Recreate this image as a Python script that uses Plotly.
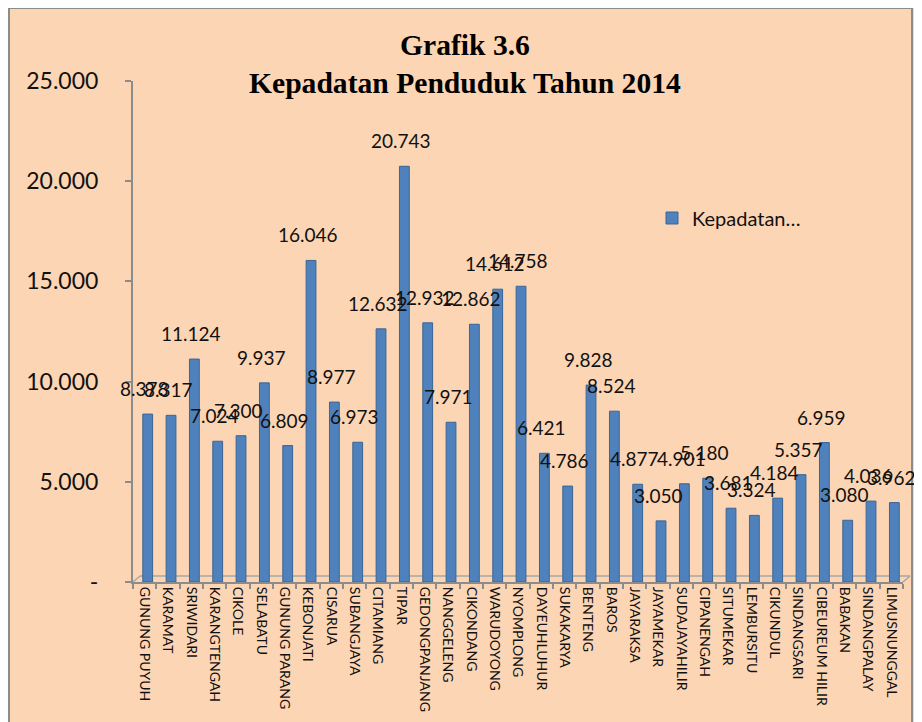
import plotly.graph_objects as go

categories = ["GUNUNG PUYUH", "KARAMAT", "SRIWIDARI", "KARANGTENGAH", "CIKOLE", "SELABATU",
              "GUNUNG PARANG", "KEBONJATI", "CISARUA", "SUBANGJAYA", "CITAMIANG", "TIPAR",
              "GEDONGPANJANG", "NANGGELENG", "CIKONDANG", "WARUDOYONG", "NYOMPLONG",
              "DAYEUHLUHUR", "SUKAKARYA", "BENTENG", "BAROS", "JAYARAKSA", "JAYAMEKAR",
              "SUDAJAYAHILIR", "CIPANENGAH", "SITUMEKAR", "LEMBURSITU", "CIKUNDUL",
              "SINDANGSARI", "CIBEUREUM HILIR", "BABAKAN", "SINDANGPALAY", "LIMUSNUNGGAL"]
kepadatan = [8378, 8317, 11124, 7024, 7300, 9937, 6809, 16046, 8977, 6973, 12632, 20743,
             12932, 7971, 12862, 14612, 14758, 6421, 4786, 9828, 8524, 4877, 3050, 4901,
             5180, 3681, 3324, 4184, 5357, 6959, 3080, 4036, 3962]
y_tickvals = [0, 5000, 10000, 15000, 20000, 25000]
y_ticktext = ["-", "5.000", "10.000", "15.000", "20.000", "25.000"]
title_line1 = "Grafik 3.6"
title_line2 = "Kepadatan Penduduk Tahun 2014"
series_name = "Kepadatan…"


def fmt(v):
    return f"{v:,}".replace(",", ".")


PEACH = "#FCD5B4"
GRAY = "#8C8C8C"
OFF = 8  # page body margin
W, H = 914, 714
# plot area in screenshot coords: x 133..903, y 81..582
L, T = 133 - OFF, 81 - OFF
R = W - (903 - OFF)
B = H - (582 - OFF)
PW, PH = W - L - R, H - T - B


def px(x):
    return (x - OFF - L) / PW


def py(y):
    return (H - B - (y - OFF)) / PH


fig = go.Figure()
fig.add_trace(go.Bar(
    x=categories, y=kepadatan, name=series_name,
    marker=dict(color="#4F81BD", line=dict(color="#3A6596", width=1)),
    width=0.42, offset=-0.08,
    showlegend=True,
))

annotations = []
for c, v in zip(categories, kepadatan):
    annotations.append(dict(x=c, y=v, xref="x", yref="y", text=fmt(v), showarrow=False,
                            yanchor="bottom", yshift=12,
                            font=dict(family="Lato", size=19, color="#111111")))
annotations.append(dict(x=px(465), y=py(45), xref="paper", yref="paper", text=f"<b>{title_line1}</b>",
                        showarrow=False, xanchor="center", yanchor="middle",
                        font=dict(family="Liberation Serif", size=29.6, color="#000000")))
annotations.append(dict(x=px(465), y=py(83), xref="paper", yref="paper", text=f"<b>{title_line2}</b>",
                        showarrow=False, xanchor="center", yanchor="middle",
                        font=dict(family="Liberation Serif", size=29.6, color="#000000")))

shapes = [
    dict(type="rect", xref="paper", yref="paper", x0=px(9), x1=px(940), y0=py(7), y1=py(740),
         fillcolor=PEACH, line=dict(width=0), layer="below"),
    dict(type="line", xref="paper", yref="paper", x0=px(9), x1=px(9), y0=py(7), y1=py(740),
         line=dict(color=GRAY, width=2), layer="below"),
    dict(type="line", xref="paper", yref="paper", x0=px(9), x1=px(912), y0=py(8), y1=py(8),
         line=dict(color=GRAY, width=2), layer="below"),
    dict(type="line", xref="paper", yref="paper", x0=px(912), x1=px(912), y0=py(7), y1=py(740),
         line=dict(color=GRAY, width=2), layer="below"),
    # 3D floor back edge and sides
    dict(type="line", xref="paper", yref="paper", x0=px(140), x1=px(910), y0=py(576), y1=py(576),
         line=dict(color="#A6A6A6", width=1.5), layer="below"),
    dict(type="line", xref="paper", yref="paper", x0=px(133), x1=px(140), y0=py(582), y1=py(576),
         line=dict(color="#A6A6A6", width=1.5), layer="below"),
    dict(type="line", xref="paper", yref="paper", x0=px(903), x1=px(910), y0=py(582), y1=py(576),
         line=dict(color="#A6A6A6", width=1.5), layer="below"),
]

fig.update_layout(
    width=W, height=H,
    margin=dict(l=L, r=R, t=T, b=B, pad=0, autoexpand=False),
    paper_bgcolor="white",
    plot_bgcolor="rgba(0,0,0,0)",
    annotations=annotations,
    shapes=shapes,
    legend=dict(x=px(652), y=py(218), xanchor="left", yanchor="middle",
                bgcolor="rgba(0,0,0,0)", font=dict(family="Lato", size=20, color="#111111"),
                itemwidth=30),
    xaxis=dict(
        type="category", range=[-0.5, len(categories) - 0.5], automargin=False,
        showline=True, linecolor=GRAY, linewidth=2,
        ticks="outside", tickson="boundaries", ticklen=5, tickcolor=GRAY, tickwidth=1.5,
        tickangle=90, tickfont=dict(family="Lato", size=14, color="#111111"),
        showgrid=False, zeroline=False, fixedrange=True,
    ),
    yaxis=dict(
        range=[0, 25000], tickvals=y_tickvals, ticktext=y_ticktext, automargin=False,
        showline=True, linecolor=GRAY, linewidth=2,
        ticks="outside", ticklen=6, tickcolor=GRAY, tickwidth=1.5,
        ticklabelstandoff=22,
        tickfont=dict(family="Lato", size=23, color="#111111"),
        showgrid=False, zeroline=False, fixedrange=True,
    ),
)

fig.write_html("out.html")
